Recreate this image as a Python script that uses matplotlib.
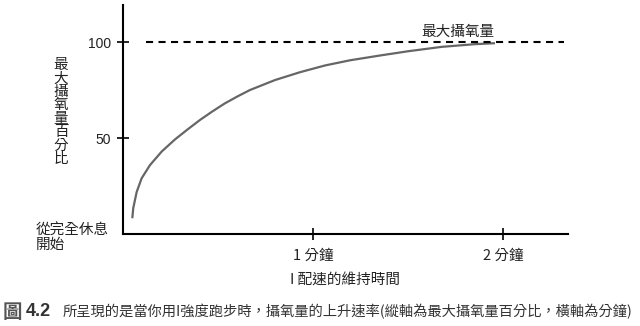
import matplotlib
matplotlib.use('Agg')
import matplotlib.pyplot as plt

plt.rcParams['font.family'] = ['Noto Sans CJK TC', 'DejaVu Sans']

# 攝氧量曲線 (分鐘, 最大攝氧量百分比)
時間 = [0.049, 0.054, 0.072, 0.098, 0.142, 0.204, 0.274, 0.339, 0.405, 0.471, 0.537,
        0.603, 0.668, 0.800, 0.932, 1.063, 1.195, 1.353, 1.500, 1.678, 1.853, 1.958]
攝氧量 = [8.2, 13.5, 21.9, 29.0, 35.9, 43.0, 49.3, 54.4, 59.4, 63.9, 68.1,
         71.7, 75.0, 80.2, 84.3, 87.8, 90.5, 93.0, 95.2, 97.5, 98.9, 99.4]

最大值 = 100
虛線範圍 = [0.12, 2.32]
y刻度 = [50, 100]
x刻度 = [1, 2]
x刻度文字 = ['1 分鐘', '2 分鐘']

fig = plt.figure(figsize=(6.4, 3.26), dpi=100)
ax = fig.add_axes([123/640, 1 - 234/326, (568-123)/640, (234-5)/326])

ax.plot(時間, 攝氧量, color='#666666', linewidth=1.6, solid_capstyle='butt')
ax.hlines(最大值, 虛線範圍[0], 虛線範圍[1], color='black', linewidth=1.5,
          linestyles=(0, (3.4, 2.6)))
ax.text(1.765, 101.5, '最大攝氧量', ha='center', va='bottom', fontsize=10.5, color='#222222')

ax.set_xlim(0, 2.342)
ax.set_ylim(0, 119.3)
for s in ['top', 'right']:
    ax.spines[s].set_visible(False)
for s in ['left', 'bottom']:
    ax.spines[s].set_linewidth(1.5)

ax.set_xticks(x刻度)
ax.set_xticklabels(x刻度文字, fontsize=10.5, color='#222222')
ax.set_yticks(y刻度)
ax.set_yticklabels([str(v) for v in y刻度], fontsize=10, color='#222222',
                   family=['Liberation Sans'])
ax.tick_params(direction='inout', length=9, width=1.2, pad=4)
ax.tick_params(axis='x', pad=6)

ax.set_xlabel('I 配速的維持時間', fontsize=10.5, color='#222222', labelpad=7)

fig.text(61/640, 1 - 112/326, '\n'.join('最大攝氧量百分比'), ha='center', va='center',
         fontsize=10.5, linespacing=0.95, color='#222222')
fig.text(36/640, 1 - 238/326, '從完全休息\n開始', ha='left', va='center',
         fontsize=10.5, linespacing=1.0, color='#222222')

fig.text(3/640, 1 - 312/326, '圖', ha='left', va='center', fontsize=14,
         fontweight='bold', color='#555555')
fig.text(26/640, 1 - 312/326, '4.2', ha='left', va='center', fontsize=13,
         fontweight='bold', color='#333333', family=['Liberation Sans'])
fig.text(63/640, 1 - 312/326,
         '所呈現的是當你用I強度跑步時，攝氧量的上升速率(縱軸為最大攝氧量百分比，橫軸為分鐘)',
         ha='left', va='center', fontsize=10.3, color='#333333')

fig.savefig('out.png', dpi=100)
